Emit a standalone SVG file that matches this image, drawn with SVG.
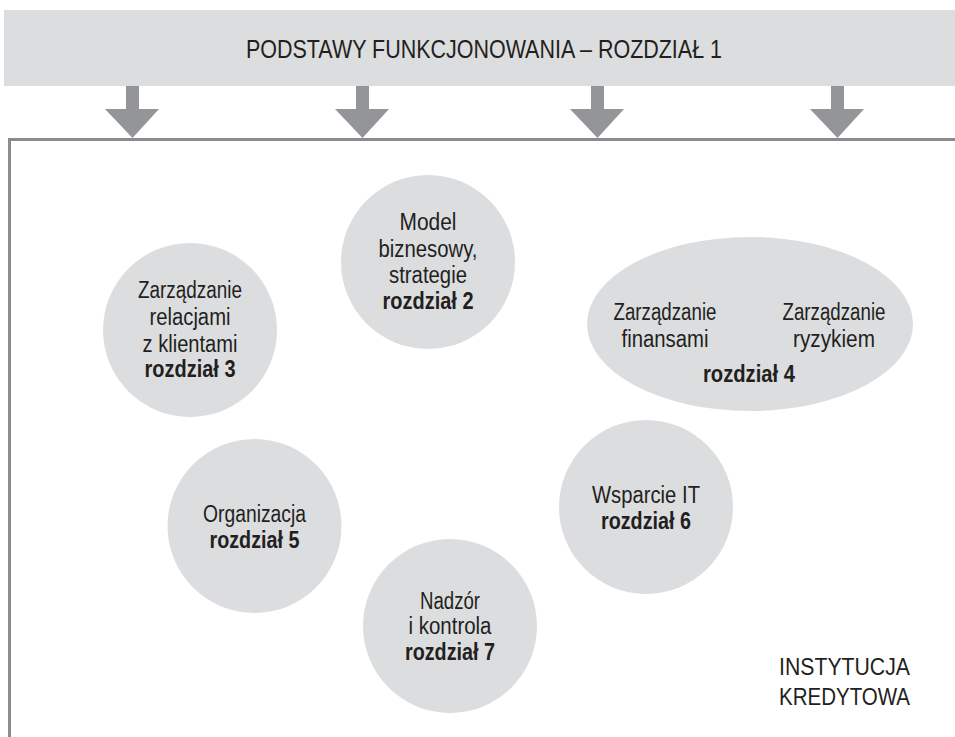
<svg xmlns="http://www.w3.org/2000/svg" width="955" height="737" viewBox="0 0 955 737">
<defs>
<style>
.bg{fill:#ffffff}
.banner{fill:#dcdddf}
.blob{fill:#dcdddf}
.arrow{fill:#939598}
.frame{fill:none;stroke:#8c8c8f;stroke-width:3}
text{font-family:"Liberation Sans",Arial,sans-serif;font-size:23px;fill:#231f20;text-anchor:middle}
.b{font-weight:bold}
.title{font-size:26px}
.left{text-anchor:start}
</style>
</defs>
<rect class="bg" x="0" y="0" width="955" height="737"/>
<g id="banner">
<rect class="banner" x="4" y="10" width="951" height="76"/>
<text class="title" x="484" y="58" textLength="476" lengthAdjust="spacingAndGlyphs">PODSTAWY FUNKCJONOWANIA – ROZDZIAŁ 1</text>
</g>
<g id="connectors">
<path class="arrow" d="M126,86 H139 V109 H159 L132.5,138 L105,109 H126 Z"/>
<path class="arrow" d="M356,86 H369 V109 H389 L362.5,138 L335,109 H356 Z"/>
<path class="arrow" d="M591,86 H604 V109 H624 L597.5,138 L570,109 H591 Z"/>
<path class="arrow" d="M831,86 H844 V109 H864 L837.5,138 L810,109 H831 Z"/>
</g>
<g id="frame">
<path class="frame" d="M9.5,737 V139.5 H955"/>
<text class="left" x="779" y="675" textLength="131" lengthAdjust="spacingAndGlyphs">INSTYTUCJA</text>
<text class="left" x="779" y="705" textLength="131" lengthAdjust="spacingAndGlyphs">KREDYTOWA</text>
</g>
<g id="node-model">
<circle class="blob" cx="428" cy="262" r="87"/>
<text x="428" y="230" textLength="57" lengthAdjust="spacingAndGlyphs">Model</text>
<text x="428" y="257" textLength="99" lengthAdjust="spacingAndGlyphs">biznesowy,</text>
<text x="428" y="283" textLength="78" lengthAdjust="spacingAndGlyphs">strategie</text>
<text class="b" x="428" y="309" textLength="91" lengthAdjust="spacingAndGlyphs">rozdział 2</text>
</g>
<g id="node-relacje">
<circle class="blob" cx="190" cy="330" r="87"/>
<text x="190" y="298" textLength="104" lengthAdjust="spacingAndGlyphs">Zarządzanie</text>
<text x="190" y="325" textLength="81" lengthAdjust="spacingAndGlyphs">relacjami</text>
<text x="190" y="352" textLength="95" lengthAdjust="spacingAndGlyphs">z klientami</text>
<text class="b" x="190" y="377" textLength="91" lengthAdjust="spacingAndGlyphs">rozdział 3</text>
</g>
<g id="node-finanse-ryzyko">
<ellipse class="blob" cx="750" cy="324" rx="163" ry="87"/>
<text x="665" y="320" textLength="103" lengthAdjust="spacingAndGlyphs">Zarządzanie</text>
<text x="665" y="347" textLength="87" lengthAdjust="spacingAndGlyphs">finansami</text>
<text x="834" y="320" textLength="103" lengthAdjust="spacingAndGlyphs">Zarządzanie</text>
<text x="834" y="347" textLength="82" lengthAdjust="spacingAndGlyphs">ryzykiem</text>
<text class="b" x="749" y="382" textLength="92" lengthAdjust="spacingAndGlyphs">rozdział 4</text>
</g>
<g id="node-organizacja">
<circle class="blob" cx="254.5" cy="526" r="87"/>
<text x="254.5" y="522" textLength="103" lengthAdjust="spacingAndGlyphs">Organizacja</text>
<text class="b" x="254.5" y="548" textLength="90" lengthAdjust="spacingAndGlyphs">rozdział 5</text>
</g>
<g id="node-it">
<circle class="blob" cx="646" cy="507" r="87"/>
<text x="646" y="503" textLength="108" lengthAdjust="spacingAndGlyphs">Wsparcie IT</text>
<text class="b" x="646" y="529" textLength="90" lengthAdjust="spacingAndGlyphs">rozdział 6</text>
</g>
<g id="node-nadzor">
<circle class="blob" cx="450" cy="626" r="87"/>
<text x="450" y="609" textLength="60" lengthAdjust="spacingAndGlyphs">Nadzór</text>
<text x="450" y="634" textLength="83" lengthAdjust="spacingAndGlyphs">i kontrola</text>
<text class="b" x="450" y="660" textLength="90" lengthAdjust="spacingAndGlyphs">rozdział 7</text>
</g>
</svg>
